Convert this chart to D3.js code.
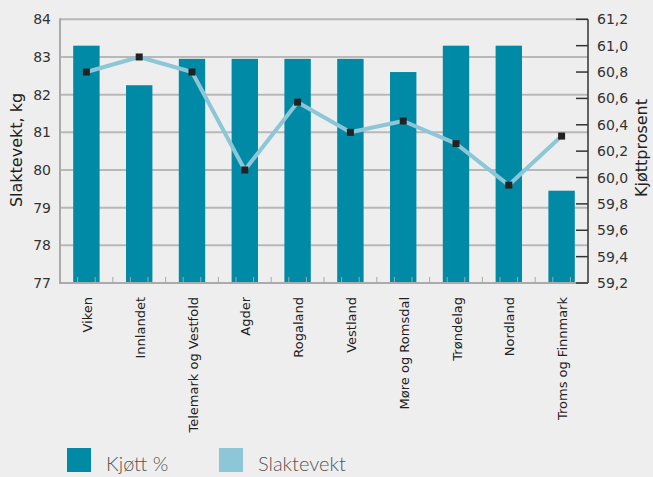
<!DOCTYPE html>
<html>
<head>
<meta charset="utf-8">
<script src="https://cdn.jsdelivr.net/npm/d3@7"></script>
<style>
  html, body { margin: 0; padding: 0; background: #eeeeee; }
  svg { display: block; }
</style>
</head>
<body>
<svg id="chart" width="653" height="477"></svg>
<script>
// Regions, meat percentage (bars, right axis) and carcass weight (line, left axis)
const regions = ["Viken", "Innlandet", "Telemark og Vestfold", "Agder", "Rogaland",
                 "Vestland", "Møre og Romsdal", "Trøndelag", "Nordland", "Troms og Finnmark"];
const kjottProsent = [61.0, 60.7, 60.9, 60.9, 60.9, 60.9, 60.8, 61.0, 61.0, 59.9];
const slaktevekt = [82.6, 83.0, 82.6, 80.0, 81.8, 81.0, 81.3, 80.7, 79.6, 80.9];
const leftTicks = [77, 78, 79, 80, 81, 82, 83, 84];
const rightTicks = [59.2, 59.4, 59.6, 59.8, 60.0, 60.2, 60.4, 60.6, 60.8, 61.0, 61.2];
const legendItems = ["Kjøtt %", "Slaktevekt"];

const barColor = "#008aa6";
const lineColor = "#8cc6d7";
const gridColor = "#b8b8b8";
const tickFont = "'DejaVu Sans', Verdana, sans-serif";

const svg = d3.select("#chart");
const m = { left: 60, right: 588, top: 19.3, bottom: 283 };

const x = d3.scaleBand().domain(regions).range([m.left, m.right]).paddingInner(0.5).paddingOuter(0.25);
const yL = d3.scaleLinear().domain([77, 84]).range([m.bottom, m.top]);
const yR = d3.scaleLinear().domain([59.2, 61.2]).range([m.bottom, m.top]);

// Horizontal gridlines from the left axis
svg.append("g").selectAll("line").data(leftTicks).join("line")
  .attr("x1", m.left).attr("x2", m.right)
  .attr("y1", d => yL(d)).attr("y2", d => yL(d))
  .attr("stroke", gridColor).attr("stroke-width", 2);

// Bars
svg.append("g").selectAll("rect").data(regions).join("rect")
  .attr("x", d => x(d))
  .attr("width", x.bandwidth())
  .attr("y", (d, i) => yR(kjottProsent[i]))
  .attr("height", (d, i) => yR.range()[0] - yR(kjottProsent[i]))
  .attr("fill", barColor);

// Bottom axis: line and small upward ticks
const step = (m.right - m.left) / regions.length;
const minor = d3.range(1, regions.length * 3).map(k => m.left + k * step / 3);
svg.append("g").selectAll("line").data(minor).join("line")
  .attr("x1", d => d).attr("x2", d => d)
  .attr("y1", m.bottom).attr("y2", m.bottom - 6)
  .attr("stroke", "#a8a8a8").attr("stroke-width", 1);
svg.append("line")
  .attr("x1", m.left - 1).attr("x2", m.right)
  .attr("y1", m.bottom).attr("y2", m.bottom)
  .attr("stroke", "#aaaaaa").attr("stroke-width", 2);

// Left axis
svg.append("line")
  .attr("x1", m.left).attr("x2", m.left)
  .attr("y1", m.top - 1).attr("y2", m.bottom)
  .attr("stroke", "#aaaaaa").attr("stroke-width", 2);
svg.append("g").selectAll("text").data(leftTicks).join("text")
  .attr("x", 51).attr("y", d => yL(d))
  .attr("text-anchor", "end").attr("dominant-baseline", "central")
  .attr("font-family", tickFont).attr("font-size", 14).attr("fill", "#333")
  .text(d => d);

// Right axis
const fmt = d => d.toFixed(1).replace(".", ",");
svg.append("line")
  .attr("x1", m.right).attr("x2", m.right)
  .attr("y1", m.top).attr("y2", m.bottom)
  .attr("stroke", "#333").attr("stroke-width", 1.5);
svg.append("g").selectAll("line").data(rightTicks).join("line")
  .attr("x1", m.right - 12).attr("x2", m.right)
  .attr("y1", d => yR(d)).attr("y2", d => yR(d))
  .attr("stroke", "#333").attr("stroke-width", 1.5);
svg.append("g").selectAll("text").data(rightTicks).join("text")
  .attr("x", 597).attr("y", d => yR(d))
  .attr("dominant-baseline", "central")
  .attr("font-family", tickFont).attr("font-size", 14).attr("fill", "#333")
  .text(fmt);

// Line with square markers
const cx = d => x(d) + x.bandwidth() / 2;
const line = d3.line().x(d => cx(d)).y((d, i) => yL(slaktevekt[i]));
svg.append("path").datum(regions)
  .attr("d", line)
  .attr("fill", "none").attr("stroke", lineColor).attr("stroke-width", 4)
  .attr("stroke-linejoin", "round");
svg.append("g").selectAll("rect").data(regions).join("rect")
  .attr("x", d => cx(d) - 3.5).attr("y", (d, i) => yL(slaktevekt[i]) - 3.5)
  .attr("width", 7).attr("height", 7)
  .attr("fill", "#222");

// Category labels
svg.append("g").selectAll("text").data(regions).join("text")
  .attr("transform", d => `translate(${cx(d) + 1},297) rotate(-90)`)
  .attr("text-anchor", "end").attr("dominant-baseline", "central")
  .attr("font-family", tickFont).attr("font-size", 13).attr("fill", "#222")
  .text(d => d);

// Axis titles
svg.append("text")
  .attr("transform", "translate(16,150) rotate(-90)")
  .attr("text-anchor", "middle").attr("dominant-baseline", "central")
  .attr("font-family", tickFont).attr("font-size", 16).attr("fill", "#222")
  .text("Slaktevekt, kg");
svg.append("text")
  .attr("transform", "translate(641,148) rotate(-90)")
  .attr("text-anchor", "middle").attr("dominant-baseline", "central")
  .attr("font-family", tickFont).attr("font-size", 16).attr("fill", "#222")
  .text("Kjøttprosent");

// Legend
const legend = svg.append("g").selectAll("g").data(legendItems).join("g")
  .attr("transform", (d, i) => `translate(${67 + i * 152},448)`);
legend.append("rect")
  .attr("width", 24).attr("height", 24)
  .attr("fill", (d, i) => i === 0 ? barColor : lineColor);
legend.append("text")
  .attr("x", 39).attr("y", 23)
  .attr("font-family", "Lato, 'Open Sans', sans-serif").attr("font-weight", 300)
  .attr("font-size", 20).attr("fill", "#555")
  .text(d => d);
</script>
</body>
</html>
